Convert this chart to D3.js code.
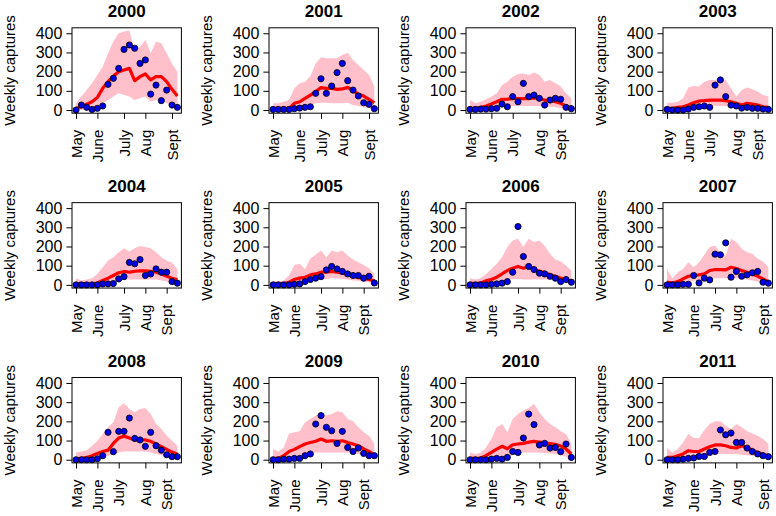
<!DOCTYPE html>
<html><head><meta charset="utf-8">
<script src="https://cdn.jsdelivr.net/npm/d3@7"></script>
<style>body{margin:0;background:#fff}svg{display:block}text{font-family:"Liberation Sans",Arial,sans-serif}</style>
</head><body><svg id="c" width="776" height="516"></svg>
<script>
const years = ["2000","2001","2002","2003","2004","2005","2006","2007","2008","2009","2010","2011"];
const monthLabels = ["May","June","July","Aug","Sept"];
const yTicks = [0,100,200,300,400];
// week index (0 = first weekly sample) at which each month begins
const monthTickWeeks = [
  [0,4,9,13,18],[0,5,9,13,18],[0,4,8,13,17],[0,4,8,13,17],
  [0,4,9,13,17],[0,4,9,13,17],[0,4,9,13,17],[0,5,9,13,18],
  [0,4,8,13,17],[0,4,9,13,17],[0,4,9,13,17],[0,5,9,13,18]
];
const observed = [
  [0,26,14,3,9,21,134,165,217,316,339,322,243,261,83,130,49,104,26,14],
  [3,3,3,3,7,10,14,17,87,163,87,125,195,243,153,104,73,38,30,7],
  [3,3,5,5,7,9,31,17,70,43,139,70,78,61,26,52,61,56,14,7],
  [3,0,0,0,5,14,17,21,14,130,157,70,26,21,10,14,9,9,5,3],
  [0,0,0,0,0,5,5,7,31,43,117,110,132,49,57,83,66,66,17,9],
  [0,0,0,0,3,5,17,28,35,43,78,96,83,70,57,49,49,35,45,10],
  [0,0,0,0,3,5,9,17,66,304,148,96,80,61,57,45,35,17,28,14],
  [0,0,0,3,3,49,10,35,26,160,157,219,40,70,45,52,63,70,14,9],
  [0,0,0,0,5,21,143,42,148,148,217,111,103,70,143,73,50,26,16,16],
  [0,0,3,3,7,7,21,30,186,230,169,151,85,148,64,43,61,33,21,21],
  [0,0,0,0,3,7,3,12,43,38,113,238,183,77,85,61,64,42,82,12],
  [0,0,0,3,7,9,17,17,38,43,155,130,139,90,90,61,43,30,21,16]
];
const meanFit = [
  [9,17,30,43,66,113,148,177,200,209,217,153,174,188,157,174,174,148,108,73],
  [9,9,9,9,35,43,61,78,96,117,113,113,108,110,118,101,83,73,56,38],
  [9,9,14,21,31,43,56,57,59,59,59,59,63,59,52,49,43,35,21,14],
  [9,9,14,17,26,38,47,49,52,52,52,49,43,35,26,35,31,26,17,14],
  [5,5,5,5,10,23,35,49,63,70,66,71,73,73,70,66,57,45,35,26],
  [5,5,7,14,28,35,40,52,57,66,66,70,66,63,52,45,38,35,28,21],
  [9,7,10,21,28,40,57,75,87,96,87,96,83,70,66,52,45,35,28,17],
  [14,10,17,31,45,49,52,57,75,80,80,78,92,85,75,66,57,45,31,17],
  [3,7,12,21,33,43,50,85,113,123,113,103,104,103,96,82,68,54,40,30],
  [7,7,21,43,54,68,82,90,96,108,96,99,96,99,90,82,73,56,43,26],
  [7,7,9,21,38,55,70,57,78,82,85,92,96,92,88,84,80,72,56,30],
  [12,12,21,30,47,43,43,56,68,77,77,73,64,61,73,64,50,38,30,16]
];
const upperBand = [
  [35,70,104,139,183,226,296,357,400,409,414,313,330,365,296,357,348,296,243,200],
  [35,35,43,52,113,139,148,177,243,275,270,270,270,287,299,261,235,209,183,122],
  [52,35,43,56,70,87,130,148,174,188,191,183,196,183,148,157,139,122,87,61],
  [38,38,43,61,118,125,122,148,157,157,153,157,113,70,104,118,108,96,78,70],
  [35,23,28,35,57,92,127,144,170,191,174,191,202,197,191,170,144,127,115,83],
  [23,17,23,49,104,110,83,139,157,179,144,179,170,179,153,132,118,104,87,57],
  [35,28,35,57,83,110,144,197,231,240,197,240,223,231,202,162,132,122,101,75],
  [83,35,66,83,118,92,118,157,197,205,166,153,240,223,188,170,162,136,122,92],
  [38,43,50,73,99,134,169,195,273,296,264,247,264,270,238,186,160,125,99,73],
  [56,43,64,137,143,148,195,212,230,247,230,238,252,247,212,200,169,143,125,85],
  [38,30,38,64,108,169,186,143,212,238,256,270,290,247,212,186,169,148,134,82],
  [61,38,56,90,134,113,113,155,186,200,200,177,160,186,169,148,137,125,108,85]
];
const lowerBand = [
  [0,0,3,9,21,35,52,70,87,78,70,52,61,70,43,52,52,35,21,9],
  [0,0,0,0,9,17,21,26,35,38,38,35,35,35,38,26,21,14,9,3],
  [0,0,0,0,3,9,14,17,21,21,21,21,21,21,17,17,14,10,5,3],
  [0,0,0,0,9,17,21,21,21,21,21,21,14,9,14,14,10,7,3,3],
  [0,0,0,0,0,5,10,17,23,28,28,28,28,28,28,28,23,17,10,5],
  [0,0,0,0,5,10,14,23,28,31,31,35,35,31,28,23,21,17,14,9],
  [0,0,0,0,9,14,23,28,31,31,28,28,28,28,28,28,23,17,14,9],
  [5,5,5,5,14,23,23,31,35,35,35,35,35,35,31,28,23,17,14,9],
  [0,0,0,0,3,12,21,30,38,43,43,43,43,43,38,30,24,19,12,7],
  [0,0,3,16,19,24,30,35,38,38,38,38,38,38,38,33,30,21,16,7],
  [0,0,0,0,7,12,21,16,24,30,38,38,38,38,35,33,30,24,16,9],
  [0,0,0,7,12,16,19,24,30,30,30,30,30,30,26,24,21,17,12,7]
];

const svg = d3.select("#c");
const W = 109.4, H = 85.4;
const FS = 15, FSY = 16;
years.forEach((yr, i) => {
  const col = i % 4, row = Math.floor(i / 4);
  const L = 72 + 197 * col, T = 27.8 + 174.85 * row;
  const n = observed[i].length;
  const x = d3.scaleLinear().domain([-0.04 * (n - 1), (n - 1) * 1.04]).range([L, L + W]);
  const y = d3.scaleLinear().domain([-16.5, 428.5]).range([T + H, T]);
  const idx = d3.range(n);
  const g = svg.append("g");

  g.append("path").datum(idx)
    .attr("d", d3.area().x(k => x(k)).y0(k => y(lowerBand[i][k])).y1(k => y(upperBand[i][k])))
    .attr("fill", "pink");
  g.append("path").datum(idx)
    .attr("d", d3.line().x(k => x(k)).y(k => y(meanFit[i][k])))
    .attr("fill", "none").attr("stroke", "red").attr("stroke-width", 3.2).attr("stroke-linejoin", "round");
  g.append("g").selectAll("circle").data(idx).join("circle")
    .attr("cx", k => x(k)).attr("cy", k => y(observed[i][k])).attr("r", 3.1)
    .attr("fill", "#0000e6").attr("stroke", "#000").attr("stroke-width", 0.8);
  g.append("rect").attr("x", L).attr("y", T).attr("width", W).attr("height", H)
    .attr("fill", "none").attr("stroke", "#000").attr("stroke-width", 1);

  const ya = g.append("g").attr("transform", `translate(${L},0)`)
    .call(d3.axisLeft(y).tickValues(yTicks).tickSize(5.6).tickPadding(4));
  ya.select(".domain").remove();
  ya.selectAll("line").attr("stroke", "#000");
  ya.selectAll("text").attr("font-size", FSY).attr("fill", "#000").attr("font-family", null);

  const xa = g.append("g").attr("transform", `translate(0,${T + H})`)
    .call(d3.axisBottom(x).tickValues(monthTickWeeks[i]).tickFormat((d, j) => monthLabels[j]).tickSize(5.6));
  xa.select(".domain").remove();
  xa.selectAll("line").attr("stroke", "#000");
  xa.selectAll("text").attr("font-size", FS).attr("fill", "#000").attr("font-family", null)
    .attr("transform", "rotate(-90)").attr("text-anchor", "end")
    .attr("x", -16.5).attr("y", 0).attr("dy", "0.35em");

  g.append("text").attr("transform", `translate(${L - 57},${T + H / 2}) rotate(-90)`)
    .attr("text-anchor", "middle").attr("font-size", FS).text("Weekly captures");
  g.append("text").attr("x", L + W / 2).attr("y", T - 11)
    .attr("text-anchor", "middle").attr("font-size", 17).attr("font-weight", "bold").text(yr);
});
</script></body></html>
